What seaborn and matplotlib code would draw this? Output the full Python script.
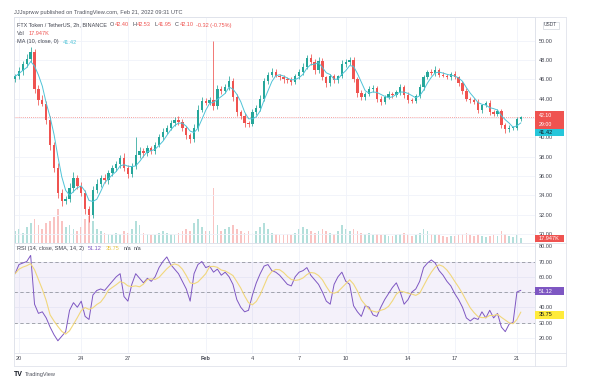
import numpy as np
import pandas as pd
import matplotlib
matplotlib.use("Agg")
import matplotlib.pyplot as plt
import matplotlib.dates as mdates
from matplotlib.lines import Line2D
from matplotlib.patches import Rectangle
import seaborn as sns

# FTX/USDT at 6h steps starting 2022-01-19 18:00
first_open = 46.0
close = [
    46.3, 46.9, 47.6, 48.1, 48.8, 45.0, 43.9, 43.5, 41.8, 39.2,
    36.8, 34.3, 33.4, 33.6, 34.8, 35.8, 35.0, 34.3, 32.6, 32.0,
    34.6, 35.2, 35.8, 35.6, 36.3, 36.8, 37.2, 37.9, 36.8, 36.2,
    37.0, 38.2, 38.6, 38.4, 38.9, 38.6, 39.2, 40.0, 40.6, 41.0,
    41.5, 41.8, 41.6, 41.0, 40.2, 39.8, 41.0, 42.8, 43.8, 43.6,
    43.9, 43.2, 45.0, 44.8, 45.2, 45.8, 44.2, 42.6, 42.2, 41.5,
    41.4, 42.6, 43.0, 44.0, 45.8, 46.5, 46.8, 46.4, 46.2, 46.0,
    45.9, 45.7, 46.3, 46.8, 47.3, 48.2, 47.8, 47.0, 47.9, 46.2,
    45.6, 46.3, 45.9, 46.3, 47.6, 47.8, 48.0, 46.0, 44.6, 44.2,
    44.5, 45.0, 45.1, 44.0, 43.7, 44.2, 44.5, 44.4, 44.7, 45.2,
    44.4, 43.9, 43.8, 44.3, 45.2, 46.2, 46.8, 46.7, 47.0, 46.5,
    46.4, 46.2, 46.6, 46.2, 45.6, 44.8, 44.0, 43.9, 43.7, 42.8,
    43.3, 43.6, 42.6, 42.4, 42.7, 41.3, 40.9, 41.0, 41.0, 41.9, 42.1,
]
# wick length above / below the candle body
hi_ext = [
    0.3, 0.4, 0.3, 0.5, 0.5, 0.3, 0.4, 0.5, 0.3, 0.4,
    0.3, 0.5, 0.4, 0.3, 0.5, 0.6, 0.3, 0.4, 0.3, 0.3,
    0.4, 0.5, 0.3, 0.4, 0.3, 0.3, 0.4, 0.3, 0.5, 0.3,
    0.3, 1.8, 0.4, 0.3, 0.3, 0.2, 0.3, 0.3, 0.4, 0.3,
    0.3, 0.3, 0.4, 0.3, 0.2, 0.3, 0.4, 0.5, 0.4, 0.3,
    0.3, 6.1, 0.4, 0.3, 0.3, 0.5, 0.3, 0.3, 0.2, 0.3,
    0.2, 0.3, 0.3, 0.4, 0.3, 0.3, 0.4, 0.3, 0.2, 0.3,
    0.2, 0.3, 0.3, 0.3, 0.4, 0.3, 0.4, 0.3, 0.4, 0.3,
    0.2, 0.3, 0.3, 0.2, 0.4, 0.3, 0.3, 0.3, 0.2, 0.3,
    0.2, 0.3, 0.3, 0.2, 0.3, 0.2, 0.3, 0.2, 0.2, 0.3,
    0.2, 0.3, 0.2, 0.2, 0.3, 0.3, 0.2, 0.3, 0.4, 0.2,
    0.3, 0.2, 0.2, 0.3, 0.2, 0.2, 0.3, 0.2, 0.2, 0.3,
    0.2, 0.2, 0.3, 0.2, 0.2, 0.2, 0.2, 0.3, 0.2, 0.2, 0.1,
]
lo_ext = [
    0.3, 0.3, 0.4, 0.3, 0.3, 0.4, 0.5, 0.3, 0.4, 0.5,
    0.4, 0.6, 0.5, 0.3, 0.3, 0.4, 0.3, 0.4, 0.5, 0.7,
    0.3, 0.4, 0.3, 0.3, 0.4, 0.3, 0.3, 0.4, 0.3, 0.4,
    0.3, 0.3, 0.3, 0.4, 0.3, 0.3, 0.3, 0.2, 0.3, 0.3,
    0.2, 0.3, 0.3, 0.3, 0.4, 0.4, 0.3, 0.3, 0.2, 0.3,
    0.3, 0.4, 0.3, 0.3, 0.2, 0.3, 0.4, 0.4, 0.3, 0.4,
    0.3, 0.2, 0.3, 0.3, 0.2, 0.3, 0.3, 0.2, 0.3, 0.4,
    0.3, 0.3, 0.2, 0.3, 0.3, 0.2, 0.3, 0.4, 0.3, 0.3,
    0.4, 0.3, 0.3, 0.3, 0.2, 0.3, 0.3, 0.3, 0.4, 0.3,
    0.3, 0.2, 0.3, 0.3, 0.3, 0.2, 0.2, 0.3, 0.2, 0.3,
    0.3, 0.3, 0.2, 0.2, 0.2, 0.3, 0.2, 0.2, 0.3, 0.3,
    0.2, 0.2, 0.3, 0.2, 0.3, 0.3, 0.2, 0.3, 0.2, 0.3,
    0.3, 0.2, 0.3, 0.2, 0.2, 0.3, 0.4, 0.3, 0.2, 0.2, 0.2,
]
volume_k = [
    324, 378, 270, 432, 540, 648, 486, 378, 540, 594,
    702, 918, 594, 432, 486, 378, 324, 432, 648, 810,
    594, 378, 324, 270, 243, 216, 270, 243, 324, 270,
    378, 594, 486, 270, 243, 216, 216, 270, 324, 270,
    243, 216, 270, 324, 378, 324, 540, 648, 432, 324,
    324, 1485, 486, 324, 378, 432, 486, 378, 324, 270,
    324, 270, 324, 432, 540, 378, 270, 243, 216, 216,
    243, 216, 270, 378, 432, 378, 324, 270, 324, 378,
    324, 270, 243, 324, 486, 378, 324, 378, 324, 270,
    243, 270, 216, 243, 216, 216, 189, 189, 216, 243,
    270, 216, 189, 216, 270, 378, 324, 243, 216, 216,
    189, 162, 189, 189, 216, 243, 270, 216, 189, 216,
    189, 162, 189, 216, 189, 324, 243, 189, 162, 216, 135,
]
rsi = [
    62, 68, 69, 70, 74, 42, 36, 37, 33, 27,
    22, 18, 21, 24, 38, 43, 40, 44, 34, 32,
    48, 51, 52, 51, 54, 57, 60, 62, 47, 44,
    55, 62, 59, 56, 59, 57, 60, 66, 70, 73,
    68, 65, 62, 57, 52, 44, 62, 68, 70, 66,
    67, 63, 65, 61, 63, 60, 55, 45, 40, 37,
    38, 48, 56, 62, 67, 68, 64, 63, 61, 58,
    55, 54, 60, 63, 64, 66, 61, 58, 55, 50,
    44, 42, 55, 60, 63, 57, 55, 41, 37, 34,
    41, 40, 35, 34, 40, 45, 49, 53, 56, 50,
    42, 45, 50, 52, 57, 66, 69, 71, 69, 64,
    61, 57, 54, 49, 45, 40, 33, 31, 33, 32,
    37, 33, 38, 33, 36, 27, 24, 29, 30, 50, 51.12,
]

date_ticks = ["2022-01-20", "2022-01-24", "2022-01-27", "2022-02-01", "2022-02-04",
              "2022-02-07", "2022-02-10", "2022-02-14", "2022-02-17", "2022-02-21"]
date_labels = ["20", "24", "27", "Feb", "4", "7", "10", "14", "17", "21"]
price_ticks = [30, 32, 34, 36, 38, 40, 42, 44, 46, 48, 50]
rsi_ticks = [20, 30, 40, 50, 60, 70, 80]
# tick labels that sit under a price tag on the right scale
covered_price, covered_rsi = 42, 50

UP, DOWN = "#26a69a", "#ef5350"
MA_C, RSI_C, SMA_C = "#4fc3d7", "#7e57c2", "#f1d77c"
TXT, GRID, FRAME = "#434651", "#f0f3fa", "#e0e3eb"
FS = 4.0
W, H = 603, 386

sns.set_theme(style="white")
plt.rcParams["font.family"] = ["Liberation Sans", "DejaVu Sans"]

close = np.array(close)
opens = np.r_[first_open, close[:-1]]
highs = np.maximum(opens, close) + np.array(hi_ext)
lows = np.minimum(opens, close) - np.array(lo_ext)
dates = pd.date_range("2022-01-19 18:00", periods=len(close), freq="6h")
pdates = dates.to_pydatetime()
cols = np.where(close >= opens, UP, DOWN)
ma = pd.Series(close).rolling(4, min_periods=1).mean()
rsi_sma = pd.Series(rsi).rolling(5, min_periods=1).mean()

fig = plt.figure(figsize=(W / 100, H / 100), dpi=100)
renderer = fig.canvas.get_renderer()


def fbox(x0, y0, x1, y1):
    return [x0 / W, 1 - y1 / H, (x1 - x0) / W, (y1 - y0) / H]


def ftext(x, y, s, **kw):
    kw.setdefault("fontsize", FS)
    kw.setdefault("color", TXT)
    kw.setdefault("va", "center")
    return fig.text(x / W, 1 - y / H, s, **kw)


def legend_row(x, y, parts):
    # lay pieces out left to right, each followed by its own gap in px
    for s, color, gap in parts:
        t = ftext(x, y, s, color=color)
        x = t.get_window_extent(renderer).x1 + gap


def fline(x0, y0, x1, y1):
    fig.add_artist(Line2D([x0 / W, x1 / W], [1 - y0 / H, 1 - y1 / H],
                          transform=fig.transFigure, color=FRAME, lw=0.6))


def tag(y, h, fc, lines, tc="white", x0=534.5, w=29):
    fig.add_artist(Rectangle((x0 / W, 1 - (y + h / 2) / H), w / W, h / H,
                             transform=fig.transFigure, fc=fc, ec="none", zorder=5))
    n = len(lines)
    for i, s in enumerate(lines):
        ftext(x0 + 4, y - h / 2 + h * (i + 0.5) / n, s, color=tc, zorder=6,
              fontsize=FS if n == 1 else 3.8)


ax = fig.add_axes(fbox(14, 17, 535, 242.5))
rax = fig.add_axes(fbox(14, 242.5, 535, 353), sharex=ax)

# volume behind the candles
vax = ax.twinx()
vax.bar(pdates, volume_k, width=0.11, color=cols, alpha=0.35, linewidth=0)
vax.set_ylim(0, 6100)
vax.set_axis_off()
ax.set_zorder(2)
vax.set_zorder(1)
ax.patch.set_visible(False)

ax.vlines(pdates, lows, highs, colors=cols, linewidth=0.55, zorder=3)
body = np.maximum(np.abs(close - opens), 0.08)
ax.bar(pdates, body, bottom=np.minimum(opens, close), width=0.15,
       color=cols, linewidth=0, zorder=4)
sns.lineplot(x=pdates, y=ma.values, ax=ax, color=MA_C, linewidth=0.7, zorder=5)
ax.axhline(42.10, color=DOWN, lw=0.6, ls=(0, (1, 1.5)), alpha=0.7, zorder=2)

xmin = pd.Timestamp("2022-01-20") - pd.Timedelta(days=0.32)
xmax = pd.Timestamp("2022-01-20") + pd.Timedelta(days=33.16)
ax.set_xlim(xmin, xmax)
ax.set_ylim(29.13, 52.45)
ax.set_yticks(price_ticks)
ax.set_yticklabels(["" if v == covered_price else f"{v:.2f}" for v in price_ticks])
ax.yaxis.tick_right()

# RSI pane
rax.axhspan(30, 70, color=RSI_C, alpha=0.08, lw=0)
for lvl in (30, 50, 70):
    rax.axhline(lvl, color="#9598a1", lw=0.6, ls=(0, (4, 3)))
sns.lineplot(x=pdates, y=rsi, ax=rax, color=RSI_C, linewidth=0.7)
sns.lineplot(x=pdates, y=rsi_sma.values, ax=rax, color=SMA_C, linewidth=0.8)
rax.set_ylim(10, 82.46)
rax.set_yticks(rsi_ticks)
rax.set_yticklabels(["" if v == covered_rsi else f"{v:.2f}" for v in rsi_ticks])
rax.yaxis.tick_right()
rax.set_xticks(mdates.date2num(pd.to_datetime(date_ticks)))
rax.set_xticklabels(date_labels)
rax.get_xticklabels()[3].set_fontweight("bold")

for a in (ax, rax):
    a.set_xlabel("")
    a.set_ylabel("")
    a.grid(True, color=GRID, linewidth=0.6)
    a.set_axisbelow(True)
    a.tick_params(axis="both", length=0, labelsize=FS, labelcolor=TXT, pad=3)
    for sp in a.spines.values():
        sp.set_color(FRAME)
        sp.set_linewidth(0.6)
ax.tick_params(axis="x", labelbottom=False)
rax.tick_params(axis="x", pad=2.2)

# outer frame and price-scale column
fline(14, 17, 566, 17)
fline(566, 17, 566, 366)
fline(14, 366, 566, 366)
fline(14, 17, 14, 366)
fline(535, 17, 535, 366)
fline(535, 242.5, 566, 242.5)
fline(535, 353, 566, 353)

# header and legends
ftext(14, 12.5, "JJJsprww published on TradingView.com, Feb 21, 2022 09:31 UTC",
      color="#50535e", fontsize=4.1)
legend_row(17, 25, [
    ("FTX Token / TetherUS, 2h, BINANCE", TXT, 3),
    ("O", TXT, 0.4), ("42.40", DOWN, 3.5),
    ("H", TXT, 0.4), ("42.53", DOWN, 3.5),
    ("L", TXT, 0.4), ("41.95", DOWN, 3.5),
    ("C", TXT, 0.4), ("42.10", DOWN, 3),
    ("-0.32 (-0.75%)", DOWN, 0),
])
legend_row(17, 33.5, [("Vol", TXT, 4), ("17.947K", DOWN, 0)])
legend_row(17, 42, [("MA (10, close, 0)", TXT, 4), ("41.42", MA_C, 0)])
legend_row(17, 248.5, [
    ("RSI (14, close, SMA, 14, 2)", TXT, 4),
    ("51.12", RSI_C, 4), ("35.75", "#e6c443", 4),
    ("n/a", TXT, 3), ("n/a", TXT, 0),
])

# price-scale tags
fig.add_artist(Rectangle((542.5 / W, 1 - 28.5 / H), 16 / W, 7 / H, transform=fig.transFigure,
                         fc="white", ec="#d1d4dc", lw=0.5, zorder=5))
ftext(544, 25, "USDT", fontsize=3.5, zorder=6)
tag(120, 17, DOWN, ["42.10", "29:00"])
tag(132.5, 8, "#26c6da", ["41.42"], tc="#131722")
tag(238.3, 7.5, DOWN, ["17.947K"])
tag(291.3, 8, RSI_C, ["51.12"])
tag(314.5, 8, "#ffeb3b", ["35.75"], tc="#131722")

# footer logo
ftext(14, 374.5, "TV", fontsize=5, fontweight="bold", color="#131722")
ftext(24.5, 374.5, "TradingView", fontsize=4.1, color="#50535e")

fig.savefig("out.png", dpi=100)
